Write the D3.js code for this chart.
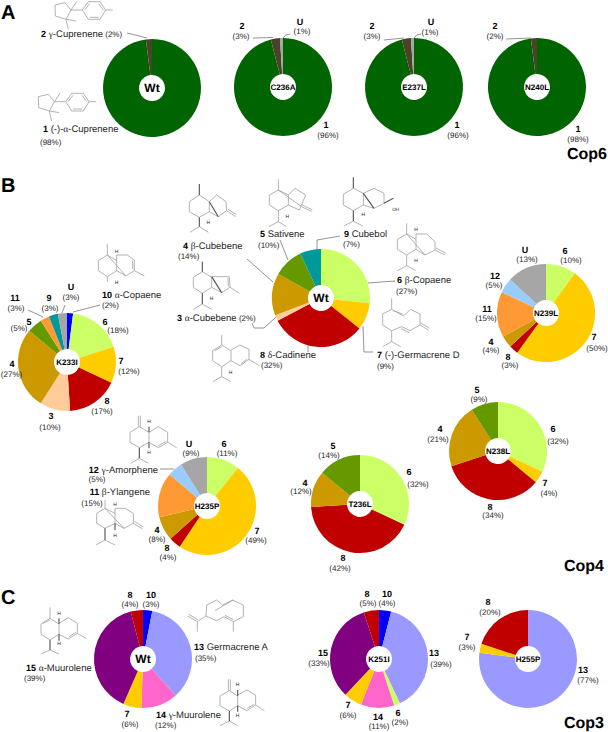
<!DOCTYPE html>
<html><head><meta charset="utf-8">
<script src="https://cdn.jsdelivr.net/npm/d3@7/dist/d3.min.js"></script>
<style>html,body{margin:0;padding:0;background:#fff}svg{display:block}text{font-family:"Liberation Sans",Arial,sans-serif;fill:#262626;text-rendering:geometricPrecision}</style>
</head><body><svg id="c" width="608" height="732"></svg>
<script>
// ---------- data ----------
const compoundNames={"1":"(-)-α-Cuprenene","2":"γ-Cuprenene","3":"α-Cubebene","4":"β-Cubebene","5":"Sativene","6":"β-Copaene","7":"(-)-Germacrene D","8":"δ-Cadinene","9":"Cubebol","10":"α-Copaene","11":"β-Ylangene","12":"γ-Amorphene","13":"Germacrene A","14":"γ-Muurolene","15":"α-Muurolene"};
const compoundColors={"1":"#006400","2":"#4b4328","3":"#ffcc99","4":"#cc9900","5":"#669900","6":"#ccff66","7":"#ffcc00","8":"#c00000","9":"#009999","10":"#0000ff","11":"#ff9933","12":"#99ccff","13":"#9999ff","14":"#ff66cc","15":"#800080","U":"#a6a6a6"};

const cop6WtIds=["1","2"],            cop6WtValues=[98,2];
const cop6C236AIds=["1","2","U"],     cop6C236AValues=[96,3,1];
const cop6E237LIds=["1","2","U"],     cop6E237LValues=[96,3,1];
const cop6N240LIds=["1","2"],         cop6N240LValues=[98,2];
const cop4WtIds=["6","7","8","3","4","5","9"],                  cop4WtValues=[27,9,32,2,14,10,7];
const cop4K233IIds=["10","6","7","8","3","4","5","11","9","U"], cop4K233IValues=[2,18,12,17,10,27,5,3,3,3];
const cop4N239LIds=["6","7","8","4","11","12","U"],             cop4N239LValues=[10,50,3,4,15,5,13];
const cop4H235PIds=["6","7","8","4","11","12","U"],             cop4H235PValues=[11,49,4,8,15,5,9];
const cop4T236LIds=["6","8","4","5"],                           cop4T236LValues=[32,42,12,14];
const cop4N238LIds=["6","7","8","4","5"],                       cop4N238LValues=[32,4,34,21,9];
const cop3WtIds=["10","13","14","7","15","8"],                  cop3WtValues=[3,35,12,6,39,4];
const cop3K251IIds=["10","13","6","14","7","15","8"],           cop3K251IValues=[4,39,2,11,6,33,5];
const cop3H255PIds=["13","7","8"],                              cop3H255PValues=[77,3,20];

// ---------- layout: [numX,numY,pctX,pctY, optional anchor of named label, anchor of pct] ----------
const pies=[
 {t:"Wt",fs:12,ids:cop6WtIds,vals:cop6WtValues,c:[152,88],lab:{"1":[43,132,40,145,"start","start"],"2":[41,37,0,37,"start","inline"]},named:["1","2"]},
 {t:"C236A",ids:cop6C236AIds,vals:cop6C236AValues,c:[283,87],lab:{"2":[242,29,241,39],"U":[300,25,302,34],"1":[326,128,328,138]}},
 {t:"E237L",ids:cop6E237LIds,vals:cop6E237LValues,c:[414,87],lab:{"2":[372,29,372,39],"U":[431,25,430,35],"1":[457,128,458,138]}},
 {t:"N240L",ids:cop6N240LIds,vals:cop6N240LValues,c:[537,87],lab:{"2":[495,29,495,39],"1":[578,132,578,142]}},
 {t:"Wt",fs:12,ids:cop4WtIds,vals:cop4WtValues,c:[321,298],named:["3","4","5","6","7","8","9"],lab:{"4":[183,249,178,259,"start","start"],"5":[260,237,258,248,"start","start"],"9":[344,237,343,247,"start","start"],"6":[397,283,396,294,"start","start"],"7":[377,358,377,369,"start","start"],"8":[260,358,261,368,"start","start"],"3":[177,321,0,321,"start","inline"]}},
 {t:"K233I",ids:cop4K233IIds,vals:cop4K233IValues,c:[67,362],named:["10"],lab:{"U":[71,290,71,300],"11":[15,301,16,311],"9":[49,301,50,311],"5":[29,325,19,331],"10":[102,298,102,308,"start","start"],"6":[105,325,118,333],"7":[121,364,129,374],"8":[107,404,102,414],"3":[51,419,50,430],"4":[12,367,11.5,377]}},
 {t:"N239L",ids:cop4N239LIds,vals:cop4N239LValues,c:[546,313],lab:{"U":[525,253,527,262],"6":[565,254,571,263],"12":[495,279,494,288],"11":[487,312,486,321],"4":[491,345,491,353],"8":[508,360,510,368],"7":[594,340,597,351]}},
 {t:"H235P",ids:cop4H235PIds,vals:cop4H235PValues,c:[207,506],named:["11","12"],lab:{"U":[189,447,191,456],"6":[224,447,227,456],"12":[158,473,97,482,"end","middle"],"11":[150,495,92,506,"end","middle"],"4":[157,533,157,542],"8":[167,551,168,560],"7":[257,534,256,543]}},
 {t:"T236L",ids:cop4T236LIds,vals:cop4T236LValues,c:[360,504],lab:{"5":[333,449,329,458],"4":[305,486,301,494],"6":[409,475,418,487],"8":[343,561,340,571]}},
 {t:"N238L",ids:cop4N238LIds,vals:cop4N238LValues,c:[498,451],lab:{"5":[477,393,479,402],"4":[440,432,438,442],"6":[553,432,558,444],"7":[545,486,549,496],"8":[490,510,493,518]}},
 {t:"Wt",fs:12,ids:cop3WtIds,vals:cop3WtValues,c:[143,659],named:["13","14","15"],lab:{"8":[130,598,130,607],"10":[151,598,151,607],"13":[194,650,195,661,"start","start"],"15":[26,671,24,681,"start","start"],"7":[127,717,130,727],"14":[156,718,155,728,"start","start"]}},
 {t:"K251I",ids:cop3K251IIds,vals:cop3K251IValues,c:[379,659],lab:{"8":[367,597,368,606],"10":[387,597,387,606],"13":[434,656,441,667],"15":[323,656,319,666],"7":[348,708,348,718],"14":[378,720,379,729],"6":[398,716,400,725]}},
 {t:"H255P",ids:cop3H255PIds,vals:cop3H255PValues,c:[528,659],lab:{"8":[488,605,490,615],"7":[467,640,467,650],"13":[583,673,588,683]}}
];
const headings=[["A",1,18.5,20],["B",1,192,20],["C",1,604,20],["Cop6",567,159,16],["Cop4",564,571,16],["Cop3",564,728,16]];
const leaders=[
 "M127 33L147 38","M253 38L273 37.5","M290 34Q285 34 283 38","M384 40L404 38","M421 34Q416 34 414 38","M506 39L531 38",
 "M28 310L43 317","M65 305L62 313","M100 305L73 312",
 "M247 259L273 282","M280 240L288 260","M340 236L317 240L317 249","M395 281L368 283","M373 352L364 352L363 326","M308 342L308 352","M252 323L254 328L264 328L276 317",
 "M160 469L174 469"];

// skeletal structures, in 3x-crop units: [offsetX, offsetY, thin path, bold path, [H labels]]
const structures=[
 [0,0,"M165 15L195 8L213 30L198 58L166 48ZM213 30L230 5M198 58L228 63M198 58L205 88M213 30L247 30L265 5L300 5L317 30L300 58L265 58L247 30M254 30L269 11M296 11L310 30M269 52L296 52M317 30L338 30",""],
 [-50,275,"M165 15L195 8L213 30L198 58L166 48ZM213 30L230 5M198 58L228 63M198 58L205 88M213 30L247 30L265 5L300 5L317 30L300 58L265 58L247 30M254 30L269 11M296 11L310 30M269 52L296 52M317 30L338 30",""],
 [510,480,"M88 105L58 125L58 155L88 172L118 155L118 125L88 105M118 125L140 105L168 125L170 152L145 170L118 155M170 152L197 170M174 148L199 164M88 200L60 217M88 200L115 217","M88 105L88 72M118 125L145 170M88 172L88 200",[[115,192]]],
 [510,480,"M325 90L298 105L298 135L325 152L355 135L355 105L325 90M325 90L325 58M355 105L375 85L407 105L388 150L355 135M325 90L395 140L425 155M395 134L427 150M325 152L325 185L297 200M325 185L350 200","",[[352,174]]],
 [510,480,"M550 85L520 103L520 135L550 152L580 135L580 100L550 85M580 100L612 85L642 100L642 130L612 145L580 135M550 183L522 198M550 183L578 198","M550 85L550 52M580 100L612 145M642 130L670 115M550 152L550 183",[[580,169]],[[677,154,"OH"]]],
 [510,480,"M710 222L682 238L682 268L710 285L738 268L738 238L710 222M710 222L710 190M738 222L770 222L795 245L795 270L765 285L738 268M710 222L765 285M738 222L738 238M795 270L825 285M798 264L828 280M710 285L710 317L682 332M710 317L737 332","",[[738,214],[738,305]]],
 [510,480,"M97 335L70 352L70 382L97 400L125 382L125 352L97 335M125 350L178 350L180 382L155 398L125 382M174 354L175 380M180 382L208 400M97 432L70 448M97 432L125 448","M97 335L97 305M125 350L155 398M97 400L97 432",[[125,419]]],
 [510,480,"M155 555L128 572L128 602L155 620L183 602L183 572L155 555M134 572L155 560M155 555L155 525M183 570L210 555L237 568L237 598L210 617L183 602M213 611L232 597M237 598L268 617M155 620L155 650L128 665M155 650L183 665","",[[182,641]]],
 [510,480,"M638 462L665 448L700 468L722 448L750 462L750 495L720 512L695 500L665 512L638 495ZM670 452L698 462M665 448L665 415M750 495L775 510M753 489L778 505M693 506L718 518M665 512L665 545L638 560M665 545L692 560","",[]],
 [0,510,"M322 255L295 272L295 302L322 320L350 302L350 272L322 255M322 255L322 222M350 255L382 255L403 270L403 302L378 318L350 302M322 255L378 318M350 255L350 272M398 272L398 298M403 302L433 318M322 320L322 335","",[[350,250],[350,342]]],
 [300,1200,"M118 80L90 97L90 127L118 143L147 127L147 97L118 80M115 80L115 47M121 80L121 47M147 97L175 80L203 97L203 127L175 143L147 127M175 137L199 124M203 127L230 143M92 190L118 175L145 190","M118 143L118 175M147 80L147 97M147 127L147 145",[[147,68],[147,161]]],
 [300,1200,"M15 325L-10 340L-10 370L15 385L45 370L45 340L15 325M15 325L15 300M45 325L75 325L100 340L100 370L72 385L45 370M15 325L72 385M100 370L128 387M103 364L130 381M-12 435L15 420L45 435M45 325L45 340","M15 385L15 420M45 370L45 390",[[45,319],[45,411]]],
 [0,1710,"M150 145L123 162L123 193L150 210L177 193L177 162L150 145M129 160L150 150M150 145L150 112M177 160L205 143L232 160L232 190L205 207L177 193M207 200L228 187M232 190L258 205M123 252L150 240L177 252","M150 210L150 240M177 145L177 162M177 193L177 212",[[177,134],[177,226]]],
 [0,1710,"M620 105L650 90L668 105L697 90L730 105L730 140L700 155L672 140L650 152L618 138ZM645 122L700 90M675 136L700 149M700 155L700 185M618 138L592 155L592 185M592 155L563 138M594 149L566 133","",[]],
 [0,1710,"M688 362L660 378L660 407L688 423L713 407L713 378L688 362M685 362L685 328M691 362L691 328M713 375L740 360L767 375L767 405L740 422L713 407M742 415L762 403M767 405L793 422M660 467L688 453L713 467","M688 423L688 453M713 360L713 378M713 407L713 425",[[713,349],[713,441]]]
];

// ---------- drawing ----------
const svg=d3.select("#c");
const outerR=49, innerR=13;
const pieGen=d3.pie().sort(null).startAngle(0).endAngle(2*Math.PI);
const arcGen=d3.arc().innerRadius(innerR).outerRadius(outerR);
const colorScale=d3.scaleOrdinal().domain(Object.keys(compoundColors)).range(Object.values(compoundColors));

const leaderG=svg.append("g");
leaderG.selectAll("path").data(leaders).join("path").attr("d",d=>d).attr("fill","none").attr("stroke","#666").attr("stroke-width",.7);

const sG=svg.append("g").selectAll("g").data(structures).join("g").attr("transform",d=>`translate(${d[0]/3},${d[1]/3}) scale(${1/3})`);
sG.append("path").attr("d",d=>d[2]).attr("fill","none").attr("stroke","#a0a0a0").attr("stroke-width",2.4);
sG.append("path").attr("d",d=>d[3]).attr("fill","none").attr("stroke","#555").attr("stroke-width",3.4);
sG.each(function(d){
  const g=d3.select(this);
  (d[4]||[]).forEach(h=>g.append("text").attr("x",h[0]).attr("y",h[1]).attr("text-anchor","middle").attr("font-size",15).text("H"));
  (d[5]||[]).forEach(h=>g.append("text").attr("x",h[0]).attr("y",h[1]).attr("text-anchor","middle").attr("font-size",14).text(h[2]));
});

function addName(t,name){
  name.split(/([α-ω])/).filter(Boolean).forEach(s=>{
    const ts=t.append("tspan").text(s);
    if(/[α-ω]/.test(s)) ts.style("font-family",'"Liberation Serif",serif');
  });
}
pies.forEach(p=>{
  const g=svg.append("g").attr("transform",`translate(${p.c[0]},${p.c[1]})`);
  const slices=pieGen(p.vals);
  g.selectAll("path").data(slices).join("path").attr("d",arcGen).attr("fill",(d,i)=>colorScale(p.ids[i]));
  g.append("text").attr("text-anchor","middle").attr("y",(p.fs||8)*.36).attr("font-size",p.fs||8).attr("font-weight","bold").style("fill","#000").text(p.t);
  p.ids.forEach((id,i)=>{
    const l=p.lab[id]; if(!l) return;
    const named=(p.named||[]).includes(id);
    const t=svg.append("text").attr("x",l[0]).attr("y",l[1]).attr("text-anchor",l[4]||"middle").attr("font-size",9.5);
    t.append("tspan").attr("font-weight","bold").attr("font-size",9).style("fill","#000").text(id);
    if(named){ t.append("tspan").text(" "); addName(t,compoundNames[id]); }
    const pct=`(${p.vals[i]}%)`;
    if(l[5]==="inline") t.append("tspan").attr("font-size",8).text(" "+pct);
    else svg.append("text").attr("x",l[2]).attr("y",l[3]).attr("text-anchor",l[5]||"middle").attr("font-size",8).text(pct);
  });
});
svg.append("g").selectAll("text").data(headings).join("text").attr("x",d=>d[1]).attr("y",d=>d[2]).attr("font-size",d=>d[3]).attr("font-weight","bold").style("fill","#000").text(d=>d[0]);
</script></body></html>
